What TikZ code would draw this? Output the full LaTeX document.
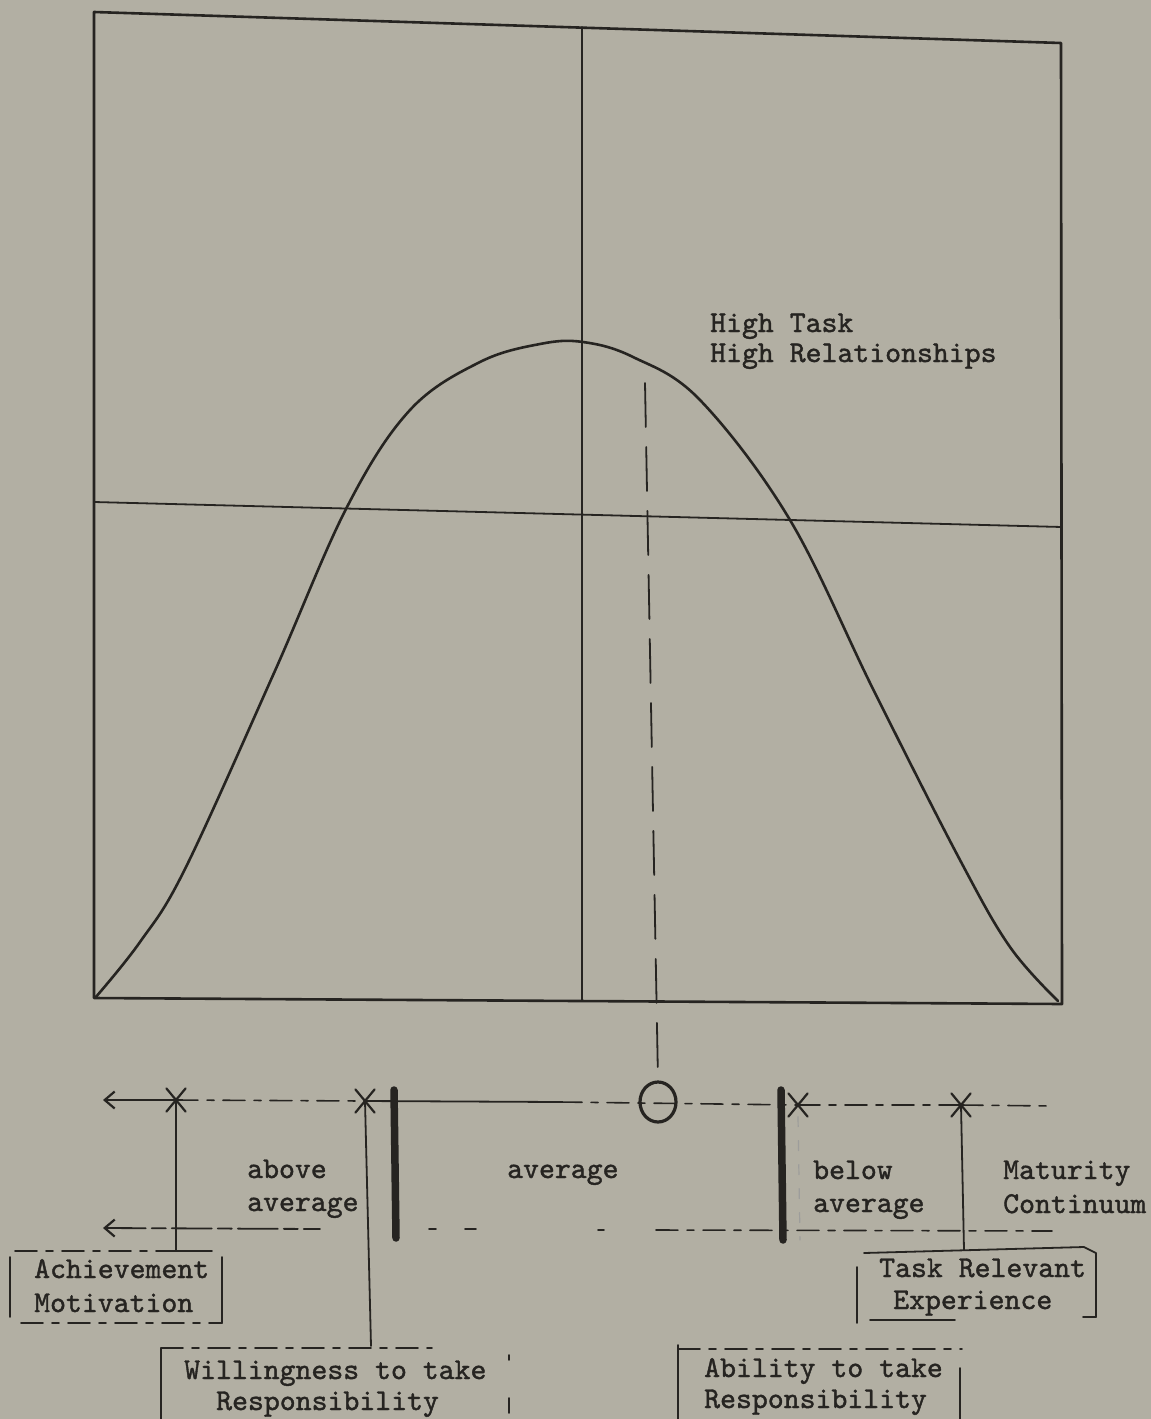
\documentclass[tikz,border=0pt]{standalone}
\usepackage{fontspec}
\newfontfamily\twfont{lmmono10-regular.otf}[FakeBold=1.3]
\usetikzlibrary{arrows.meta,shapes.geometric,shapes.misc}
\definecolor{paper}{RGB}{178,175,163}
\definecolor{ink}{RGB}{38,36,33}
\begin{document}
\begin{tikzpicture}[x=1pt,y=-1pt,line cap=round,line join=round,
  every node/.style={inner sep=0pt,text=ink},
  lbl/.style={anchor=base west,font=\twfont\fontsize{30.3}{33}\selectfont},
  frameline/.style={draw=ink,line width=2.6pt},
  thinline/.style={draw=ink,line width=1.8pt},
  brokenline/.style={draw=ink,line width=1.6pt,dash pattern=on 22pt off 9pt on 7pt off 9pt},
  xmark/.style={draw=ink,cross out,minimum width=17pt,minimum height=21pt,line width=2.2pt},
  thickbar/.style={draw=ink,line width=7.5pt},
  barb/.style={{Straight Barb[length=10pt,width=17pt,line width=2.2pt]}-}]
\fill[paper] (0,0) rectangle (1151,1419);
\useasboundingbox (0,0) rectangle (1151,1419);

% frame
\coordinate (TL) at (94,12);
\coordinate (TR) at (1061,43);
\coordinate (BR) at (1062,1004);
\coordinate (BL) at (94,998);
\coordinate (MT) at (582,27);
\coordinate (MB) at (582,1000);
\coordinate (ML) at (94,502);
\coordinate (MR) at (1062,527);
\draw[frameline] (BL) -- (TL) -- (TR) -- (BR) -- cycle;
\draw[thinline] (MT) -- (MB);
\draw[thinline] (ML) -- (MR);

% curve
\draw[ink,line width=2.6pt] plot[smooth,tension=0.6] coordinates {
 (95,998) (140,942) (185,869) (274,673) (347,507)
 (410,410) (480,362) (540,344) (583,342)
 (633,357) (700,400) (790,520)
 (874,691) (960,860) (1010,947) (1058,1001)};

% labels in graph
\node[lbl] (ht1) at (710,332) {High Task};
\node[lbl] (ht2) at (710,362) {High Relationships};

% zero circle and dashed projection
\node[draw=ink,ellipse,minimum width=36pt,minimum height=40pt,line width=3.2pt] (zero) at (658,1102) {};
\coordinate (DT) at (645,383);
\draw[ink,line width=1.8pt,dash pattern=on 44pt off 20pt] (DT) -- (zero.north);

% maturity line (upper)
\node[xmark] (X1) at (176,1100) {};
\node[xmark] (X2) at (365,1101) {};
\node[xmark] (X3) at (798,1105) {};
\node[xmark] (X4) at (961,1105) {};
\coordinate (aL) at (103,1100);
\coordinate (sE) at (560,1102);
\coordinate (aR) at (1052,1106);
\draw[thinline,barb] (aL) -- (X1.center);
\draw[brokenline] (X1.center) -- (X2.center);
\draw[thinline] (X2.center) -- (sE);
\draw[brokenline] (sE) -- (X3.center);
\draw[brokenline] (X3.center) -- (X4.center);
\draw[brokenline] (X4.center) -- (aR);

% lower line
\coordinate (bL) at (103,1228);
\coordinate (b1) at (320,1229);
\coordinate (b2) at (656,1230);
\coordinate (bR) at (1052,1231);
\draw[thinline,barb,dash pattern=on 40pt off 6pt on 14pt off 6pt] (bL) -- (b1);
\draw[brokenline] (429,1229) -- (436,1229) (465,1229) -- (476,1229) (598,1230) -- (604,1230);
\draw[brokenline] (b2) -- (bR);

% thick bars
\coordinate (L1) at (394,1090);
\coordinate (L2) at (396,1238);
\coordinate (R1) at (781,1090);
\coordinate (R2) at (783,1240);
\draw[thickbar] (L1) -- (L2);
\draw[thickbar] (R1) -- (R2);

% scale labels
\node[lbl] (ab1) at (247,1178) {above};
\node[lbl] (ab2) at (247,1211) {average};
\node[lbl] (av) at (507,1178) {average};
\node[lbl] (be1) at (813,1179) {below};
\node[lbl] (be2) at (813,1212) {average};
\node[lbl] (mc1) at (1003,1179) {Maturity};
\node[lbl] (mc2) at (1003,1213) {Continuum};

% connectors
\coordinate (c1) at (176,1251);
\coordinate (c1e) at (212,1251);
\coordinate (w1) at (371,1346);
\coordinate (t1) at (964,1250);
\draw[thinline] (X1.center) -- (c1) -- (c1e);
\draw[thinline] (X2.center) -- (w1);
\draw[thinline] (X4.center) -- (t1);
\draw[ink!45,line width=1.2pt,dash pattern=on 10pt off 14pt] (X3.south) -- (800,1240);

% Achievement box
\draw[brokenline] (15,1251) -- (c1);
\draw[thinline] (10,1257) -- (10,1317);
\draw[thinline] (222,1257) -- (222,1323);
\draw[brokenline] (21,1323) -- (222,1323);
\node[lbl] (am1) at (34,1278) {Achievement};
\node[lbl] (am2) at (34,1312) {Motivation};

% Willingness box
\draw[brokenline] (161,1348) -- (432,1348);
\draw[thinline] (161,1348) -- (161,1419);
\draw[thinline] (509,1355) -- (509,1360);
\draw[thinline] (509,1398) -- (509,1413);
\node[lbl] (wr1) at (184,1379) {Willingness to take};
\node[lbl] (wr2) at (216,1410) {Responsibility};

% Ability box
\draw[brokenline] (678,1349) -- (962,1349);
\draw[thinline] (678,1345) -- (678,1419);
\draw[thinline] (960,1368) -- (960,1419);
\node[lbl] (ar1) at (704,1377) {Ability to take};
\node[lbl] (ar2) at (704,1408) {Responsibility};

% Task Relevant box
\draw[thinline] (864,1253) -- (1084,1247) -- (1096,1253) -- (1096,1317);
\draw[thinline] (857,1267) -- (857,1323);
\draw[thinline] (870,1320) -- (955,1320);
\draw[thinline] (1083,1317) -- (1096,1317);
\node[lbl] (tr1) at (879,1277) {Task Relevant};
\node[lbl] (tr2) at (893,1309) {Experience};
\end{tikzpicture}
\end{document}
